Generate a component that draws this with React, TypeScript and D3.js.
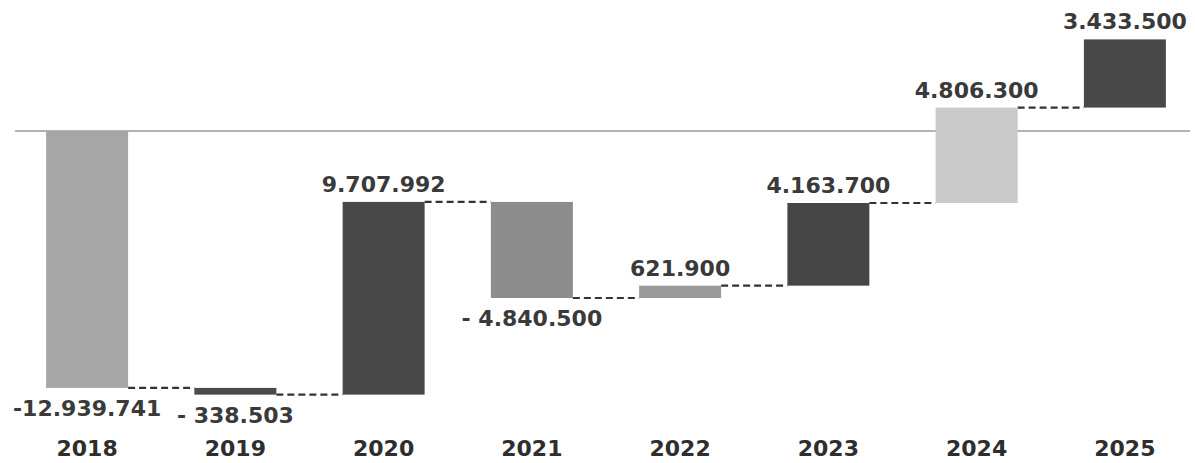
import React, { useEffect, useRef } from 'react';
import * as d3 from 'd3';

const years = ['2018', '2019', '2020', '2021', '2022', '2023', '2024', '2025'];
const deltas = [-12939741, -338503, 9707992, -4840500, 621900, 4163700, 4806300, 3433500];
const valueLabels = ['-12.939.741', '- 338.503', '9.707.992', '- 4.840.500', '621.900', '4.163.700', '4.806.300', '3.433.500'];
const barColors = ['#a6a6a6', '#4a4a4a', '#484848', '#8c8c8c', '#9a9a9a', '#464646', '#c9c9c9', '#484848'];

const width = 1195;
const height = 463;
const font = '"DejaVu Sans", Verdana, sans-serif';

const App = () => {
    const svgRef = useRef<SVGSVGElement>(null);

    useEffect(() => {
        document.body.style.margin = '0';
        const svg = d3.select(svgRef.current);
        svg.selectAll('*').remove();

        const x = d3.scaleBand().domain(years).range([13, 1199]).paddingInner(0.447).paddingOuter(0.2235);
        const y = d3.scaleLinear().domain([-16.52e6, 6.6e6]).range([459, 0]);

        let run = 0;
        const steps = deltas.map((d, i) => {
            const start = run;
            run += d;
            return { year: years[i], start, end: run, delta: d, label: valueLabels[i], color: barColors[i] };
        });

        // zero line
        svg.append('line')
            .attr('x1', 15).attr('x2', 1190)
            .attr('y1', y(0)).attr('y2', y(0))
            .attr('stroke', '#9a9a9a').attr('stroke-width', 1.5);

        // connectors
        svg.append('g').selectAll('line')
            .data(steps.slice(0, -1))
            .join('line')
            .attr('x1', d => x(d.year)! + x.bandwidth())
            .attr('x2', (d, i) => x(years[i + 1])!)
            .attr('y1', d => y(d.end))
            .attr('y2', d => y(d.end))
            .attr('stroke', '#333')
            .attr('stroke-width', 2.2)
            .attr('stroke-dasharray', '7,4');

        svg.append('g').selectAll('rect')
            .data(steps)
            .join('rect')
            .attr('x', d => x(d.year)!)
            .attr('width', x.bandwidth())
            .attr('y', d => y(Math.max(d.start, d.end)))
            .attr('height', d => Math.max(3, Math.abs(y(d.start) - y(d.end))))
            .attr('fill', d => d.color);

        svg.append('g').selectAll('text')
            .data(steps)
            .join('text')
            .attr('x', d => x(d.year)! + x.bandwidth() / 2)
            .attr('y', d => d.delta >= 0 ? y(Math.max(d.start, d.end)) - 10 : y(Math.min(d.start, d.end)) + 28)
            .attr('text-anchor', 'middle')
            .attr('font-family', font)
            .attr('font-weight', 'bold')
            .attr('font-size', 22)
            .attr('fill', '#3a3a3a')
            .text(d => d.label);

        svg.append('g').selectAll('text')
            .data(years)
            .join('text')
            .attr('x', d => x(d)! + x.bandwidth() / 2)
            .attr('y', 456)
            .attr('text-anchor', 'middle')
            .attr('font-family', font)
            .attr('font-weight', 'bold')
            .attr('font-size', 22)
            .attr('fill', '#2e2e2e')
            .text(d => d);
    }, []);

    return <svg ref={svgRef} width={width} height={height} style={{ display: 'block' }}></svg>;
};

export default App;
